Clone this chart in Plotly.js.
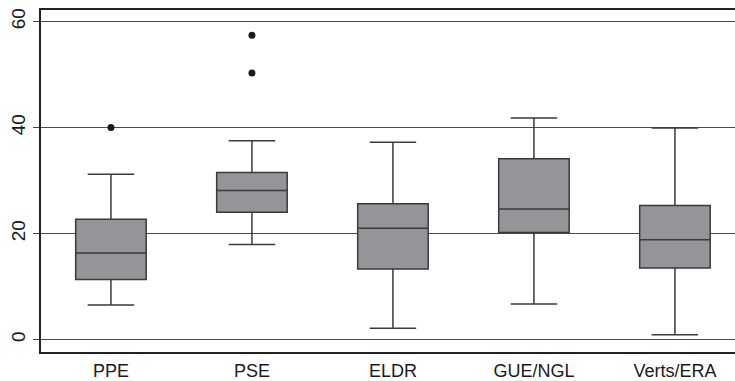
<!DOCTYPE html>
<html>
<head>
<meta charset="utf-8">
<script src="https://cdn.plot.ly/plotly-3.0.1.min.js"></script>
<style>html,body{margin:0;padding:0;background:#fff;}#chart{width:735px;height:381px;}</style>
</head>
<body>
<div id="chart"></div>
<script>
var categories = ["PPE", "PSE", "ELDR", "GUE/NGL", "Verts/ERA"];
var lowerFence = [6.5, 17.9, 2.1, 6.7, 0.9];
var q1Values = [11.3, 24.0, 13.3, 20.2, 13.5];
var medianValues = [16.3, 28.1, 21.0, 24.6, 18.8];
var q3Values = [22.7, 31.5, 25.6, 34.1, 25.3];
var upperFence = [31.2, 37.5, 37.2, 41.8, 39.9];
var outlierCats = ["PPE", "PSE", "PSE"];
var outlierValues = [40.0, 50.3, 57.4];
var yTicks = [0, 20, 40, 60];

var boxTrace = {
  type: "box",
  x: categories,
  q1: q1Values,
  median: medianValues,
  q3: q3Values,
  lowerfence: lowerFence,
  upperfence: upperFence,
  boxpoints: false,
  width: 0.5,
  whiskerwidth: 0.66,
  fillcolor: "#939598",
  line: {color: "#3a3a3a", width: 1.5},
  hoverinfo: "skip"
};
var outlierTrace = {
  type: "scatter",
  mode: "markers",
  x: outlierCats,
  y: outlierValues,
  marker: {color: "#1a1a1a", size: 7},
  hoverinfo: "skip"
};

var layout = {
  width: 735,
  height: 381,
  margin: {l: 41, r: 0, t: 10, b: 29},
  paper_bgcolor: "#fff",
  plot_bgcolor: "#fff",
  showlegend: false,
  font: {family: "'Liberation Sans', Arial, sans-serif", color: "#1a1a1a", size: 18},
  xaxis: {
    type: "category",
    categoryorder: "array",
    categoryarray: categories,
    range: [-0.496, 4.426],
    showgrid: false,
    zeroline: false,
    showline: true,
    mirror: true,
    linecolor: "#222",
    linewidth: 2,
    ticks: "",
    ticklabelstandoff: 1,
    tickfont: {size: 18, color: "#1a1a1a"}
  },
  yaxis: {
    range: [-2.36, 62.17],
    tickvals: yTicks,
    ticktext: yTicks.map(String),
    tickangle: -90,
    ticks: "outside",
    ticklen: 6,
    tickcolor: "#444",
    showgrid: true,
    gridcolor: "#4a4a4a",
    gridwidth: 1.2,
    zeroline: false,
    showline: true,
    linecolor: "#222",
    linewidth: 2,
    tickfont: {size: 19, color: "#1a1a1a"}
  }
};

Plotly.newPlot("chart", [boxTrace, outlierTrace], layout, {staticPlot: true, displayModeBar: false});
</script>
</body>
</html>
